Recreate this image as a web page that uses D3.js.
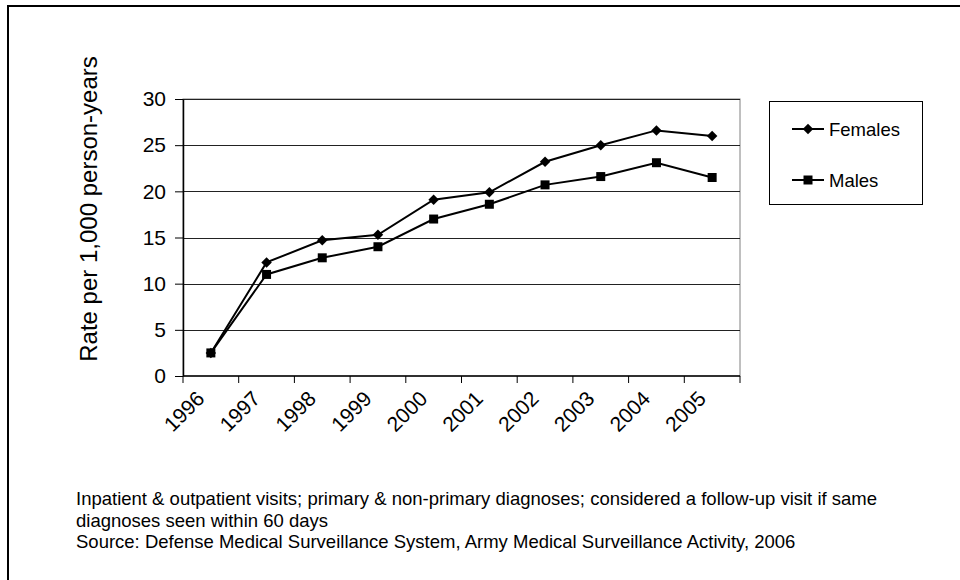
<!DOCTYPE html>
<html>
<head>
<meta charset="utf-8">
<script src="https://cdn.jsdelivr.net/npm/d3@7"></script>
<style>
html,body{margin:0;padding:0;background:#fff;}
svg{display:block;font-family:Arial,"Liberation Sans",sans-serif;}
</style>
</head>
<body>
<svg id="chart" width="960" height="580"></svg>
<script>
const years = ["1996","1997","1998","1999","2000","2001","2002","2003","2004","2005"];
const females = [2.5, 12.3, 14.7, 15.3, 19.1, 19.9, 23.2, 25.0, 26.6, 26.0];
const males = [2.5, 11.0, 12.8, 14.0, 17.0, 18.6, 20.7, 21.6, 23.1, 21.5];
const yTicks = [0, 5, 10, 15, 20, 25, 30];
const seriesNames = ["Females", "Males"];
const yTitle = "Rate per 1,000 person-years";
const notes = [
  "Inpatient & outpatient visits; primary & non-primary diagnoses; considered a follow-up visit if same",
  "diagnoses seen within 60 days",
  "Source: Defense Medical Surveillance System, Army Medical Surveillance Activity, 2006"
];

const svg = d3.select("#chart");
const L = 183, R = 740, T = 99, B = 376;

// outer frame
svg.append("rect").attr("x", 8).attr("y", 6).attr("width", 980).attr("height", 600)
  .attr("fill", "none").attr("stroke", "#000").attr("stroke-width", 2);

const x = d3.scaleBand().domain(years).range([L, R]).padding(0);
const y = d3.scaleLinear().domain([0, 30]).range([B, T]);

// plot area border (right/top)
svg.append("rect").attr("x", L).attr("y", T).attr("width", R - L).attr("height", B - T)
  .attr("fill", "none").attr("stroke", "#808080").attr("stroke-width", 1);

// gridlines
svg.append("g").selectAll("line").data(yTicks.filter(d => d > 0)).join("line")
  .attr("x1", L).attr("x2", R)
  .attr("y1", d => Math.round(y(d)) + 0.5).attr("y2", d => Math.round(y(d)) + 0.5)
  .attr("stroke", "#222").attr("stroke-width", 1);

// y axis
const yAxis = svg.append("g").attr("transform", `translate(${L},0)`)
  .call(d3.axisLeft(y).tickValues(yTicks).tickSize(8).tickPadding(9).tickSizeOuter(0));
yAxis.select(".domain").attr("stroke", "#000").attr("stroke-width", 1.5);
yAxis.selectAll(".tick line").attr("stroke", "#000");
yAxis.selectAll(".tick text").attr("font-size", 21).attr("fill", "#000")
  .attr("font-family", "Arial, 'Liberation Sans', sans-serif");

// x axis line and boundary ticks
const edges = years.map(d => x(d)).concat([R]);
const xAxisG = svg.append("g");
xAxisG.append("line").attr("x1", L).attr("x2", R).attr("y1", B).attr("y2", B)
  .attr("stroke", "#000").attr("stroke-width", 1.5);
xAxisG.selectAll("line.tk").data(edges).join("line").attr("class", "tk")
  .attr("x1", d => d).attr("x2", d => d).attr("y1", B).attr("y2", B + 7)
  .attr("stroke", "#000").attr("stroke-width", 1);
xAxisG.selectAll("text").data(years).join("text")
  .attr("transform", d => `translate(${x(d) + x.bandwidth() / 2 - 5},${B + 24}) rotate(-45)`)
  .attr("text-anchor", "end")
  .attr("font-size", 21).attr("fill", "#000").text(d => d);

// y title
svg.append("text")
  .attr("transform", `translate(97,209) rotate(-90)`)
  .attr("text-anchor", "middle").attr("font-size", 24).attr("fill", "#000")
  .text(yTitle);

// lines
const cx = d => x(d) + x.bandwidth() / 2;
const line = d3.line().x((d, i) => cx(years[i])).y(d => y(d));
const diamond = d3.symbol().type(d3.symbolDiamond2).size(70);
const square = d3.symbol().type(d3.symbolSquare).size(81);

svg.append("path").datum(females).attr("d", line)
  .attr("fill", "none").attr("stroke", "#000").attr("stroke-width", 2);
svg.append("path").datum(males).attr("d", line)
  .attr("fill", "none").attr("stroke", "#000").attr("stroke-width", 2);

svg.append("g").selectAll("path").data(females).join("path")
  .attr("transform", (d, i) => `translate(${cx(years[i])},${y(d)})`)
  .attr("d", diamond).attr("fill", "#000");
svg.append("g").selectAll("path").data(males).join("path")
  .attr("transform", (d, i) => `translate(${cx(years[i])},${y(d)})`)
  .attr("d", square).attr("fill", "#000");

// legend
const lg = svg.append("g");
lg.append("rect").attr("x", 769.5).attr("y", 101.5).attr("width", 153).attr("height", 103)
  .attr("fill", "#fff").attr("stroke", "#000").attr("stroke-width", 1);
const legY = [129, 180];
const syms = [diamond, square];
seriesNames.forEach((name, i) => {
  lg.append("line").attr("x1", 792).attr("x2", 824).attr("y1", legY[i]).attr("y2", legY[i])
    .attr("stroke", "#000").attr("stroke-width", 2);
  lg.append("path").attr("transform", `translate(808,${legY[i]})`).attr("d", syms[i]).attr("fill", "#000");
  lg.append("text").attr("x", 829).attr("y", legY[i]).attr("dy", "0.36em")
    .attr("font-size", 18.5).attr("fill", "#000").text(name);
});

// footnotes
svg.append("g").selectAll("text").data(notes).join("text")
  .attr("x", 76).attr("y", (d, i) => 505 + i * 21.5)
  .attr("font-size", 18.5).attr("fill", "#000").text(d => d);
</script>
</body>
</html>
